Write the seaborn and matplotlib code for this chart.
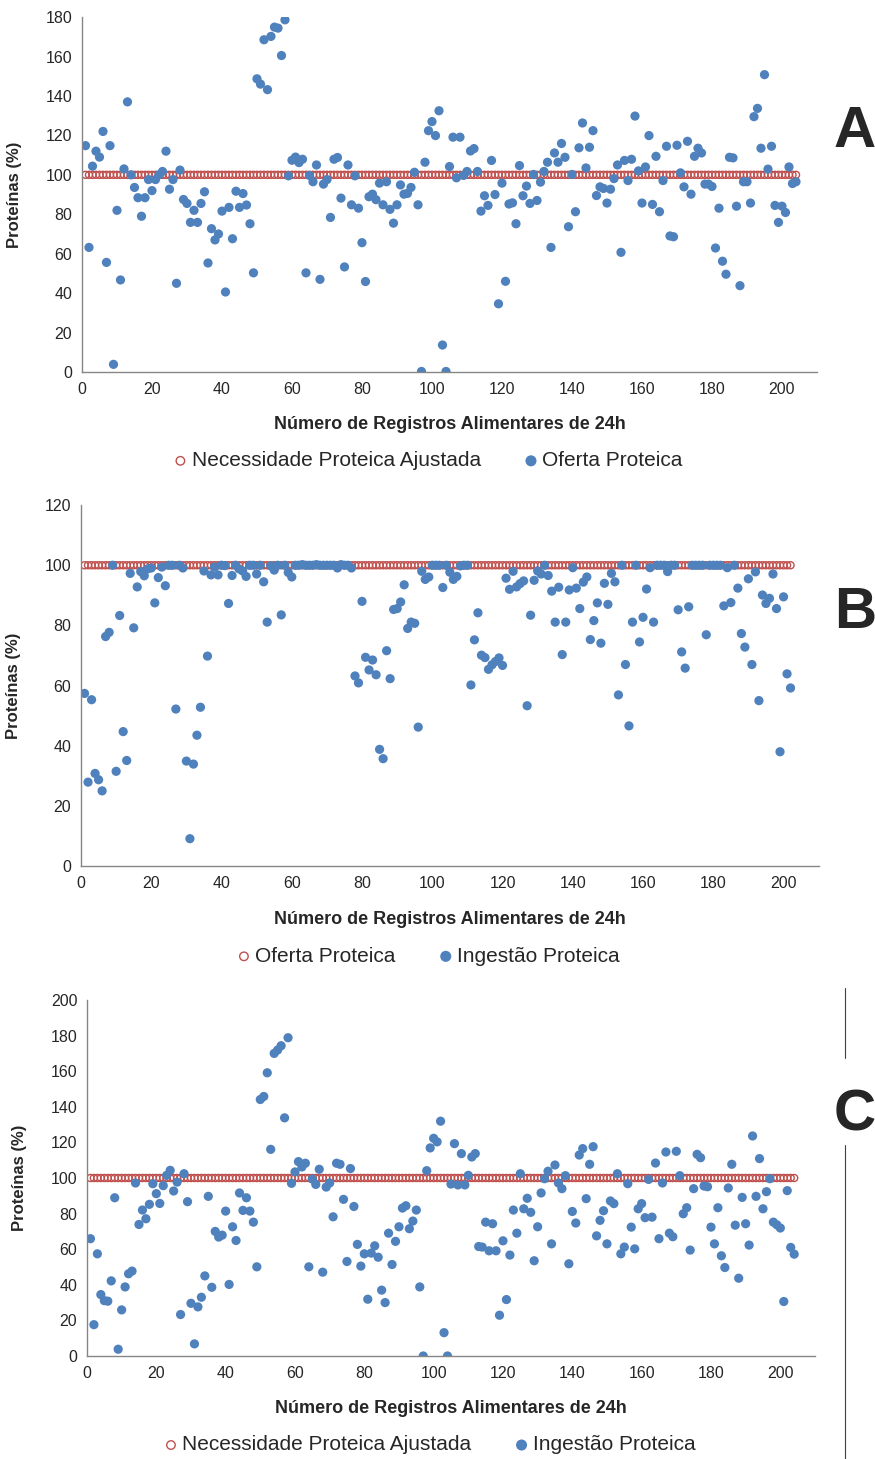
import numpy as np
import pandas as pd
import matplotlib
matplotlib.use('Agg')
import matplotlib.pyplot as plt
import seaborn as sns
from matplotlib.lines import Line2D

# Panel A: adjusted need (100%) vs protein offer
oferta_a = [114.8, 63.2, 104.4, 112, 109, 122, 55.6, 114.8, 3.9, 82,
            46.7, 103, 137, 100, 93.6, 88.4, 79, 88.4, 97.6, 92,
            97.6, 100, 101.7, 112, 92.7, 97.6, 45, 102.4, 87.5, 85.5,
            75.9, 82, 75.9, 85.5, 91.4, 55.3, 72.7, 67, 70, 81.6,
            40.6, 83.5, 67.6, 91.7, 83.5, 90.5, 84.7, 75.2, 50.3, 148.7,
            146, 168.5, 143.2, 170.2, 174.9, 174.4, 160.5, 178.6, 99.5, 107.4,
            109, 106.2, 107.9, 50.3, 99.7, 96.5, 105, 47, 95.3, 97.6,
            78.4, 107.9, 108.8, 88.2, 53.3, 105, 84.8, 99.5, 83.1, 65.6,
            45.9, 88.9, 90.2, 87.4, 95.8, 84.8, 96.5, 82.5, 75.5, 84.8,
            94.9, 90.2, 90.6, 93.6, 101.3, 84.8, 0.3, 106.4, 122.4, 127,
            119.9, 132.5, 13.7, 0.3, 104.2, 119.1, 98.5, 119.1, 99.7, 101.7,
            112.1, 113.3, 101.7, 81.6, 89.4, 84.5, 107.3, 90, 34.6, 95.8,
            46, 85.2, 85.8, 75.2, 104.7, 89.4, 94.3, 85.5, 100.2, 87,
            96.3, 101.7, 106.4, 63.2, 111.1, 106.4, 115.9, 108.9, 73.7, 100.2,
            81.3, 113.7, 126.3, 103.5, 114, 122.4, 89.5, 93.9, 93.1, 85.7,
            92.7, 98.1, 105, 60.7, 107.3, 97.1, 107.9, 129.8, 102, 85.7,
            104, 119.9, 85, 109.4, 81.3, 97.1, 114.5, 69, 68.6, 115,
            101, 93.9, 117, 90.2, 109.4, 113.5, 111.1, 95.3, 95.3, 94.1,
            62.9, 83.1, 56.2, 49.6, 108.9, 108.6, 84.1, 43.8, 96.5, 96.5,
            85.7, 129.5, 133.7, 113.5, 150.8, 102.9, 114.5, 84.5, 75.9, 84.1,
            80.9, 104, 95.6, 96.5]

# Panel B: protein offer (100%) vs protein intake
ingestao_b = [57.4, 27.9, 55.3, 30.8, 28.7, 25, 76.3, 77.7, 100, 31.5,
              83.3, 44.7, 35.1, 97.3, 79.2, 92.8, 97.9, 96.5, 98.8, 99.1,
              87.5, 95.9, 99.4, 93.2, 100, 100, 52.2, 100, 99.1, 34.9,
              9.1, 33.9, 43.5, 52.8, 98.1, 69.8, 96.8, 99.4, 96.8, 100,
              99.9, 87.3, 96.6, 100, 98.8, 98.1, 96.3, 100, 100, 97.1,
              100, 94.5, 81.1, 99.8, 98.4, 100, 83.5, 100, 97.6, 96.1,
              100, 100, 100.2, 100, 100, 100, 100.2, 100, 100, 100,
              100, 100, 99.1, 100.2, 100, 100, 99.1, 63.2, 60.9, 88,
              69.4, 65.2, 68.5, 63.6, 38.8, 35.7, 71.6, 62.3, 85.3, 85.6,
              87.8, 93.5, 79, 81.1, 80.7, 46.2, 98, 95.3, 96.1, 100,
              100, 100, 92.6, 100, 97.7, 95.3, 96.3, 99.8, 100, 100,
              60.2, 75.2, 84.2, 70.1, 69.3, 65.4, 66.9, 68, 69.2, 66.7,
              95.7, 92, 98, 92.8, 93.9, 94.8, 53.3, 83.4, 95, 98.1,
              97.1, 100, 96.6, 91.4, 81.1, 92.7, 70.3, 81.1, 91.8, 99.2,
              92.4, 85.6, 94.4, 96.1, 75.3, 81.6, 87.5, 74.1, 94, 87,
              97.3, 94.5, 56.9, 100, 67, 46.6, 81.1, 100, 74.5, 82.7,
              92.1, 99.2, 81.1, 100, 100, 100, 97.9, 100, 100, 85.2,
              71.2, 65.8, 86.2, 100, 100, 100, 100, 76.9, 100, 100,
              100, 100, 86.5, 99.2, 87.6, 100, 92.4, 77.3, 72.8, 95.5,
              67, 97.8, 55, 90.1, 87.3, 89, 97.1, 85.6, 38, 89.5,
              63.9, 59.2]

# Panel C: adjusted need (100%) vs protein intake
ingestao_c = [65.9, 17.6, 57.4, 34.5, 31.1, 30.8, 42.2, 88.9, 3.8, 25.9,
              38.8, 46.2, 47.7, 97.2, 73.9, 82, 77.1, 85.2, 96.8, 91.2,
              85.7, 95.7, 101.5, 104.3, 92.7, 97.7, 23.3, 102.4, 86.7, 29.6,
              6.8, 27.6, 33, 45, 89.7, 38.6, 70, 66.8, 67.9, 81.4,
              40.2, 72.6, 64.9, 91.6, 81.8, 88.9, 81.4, 75.2, 50.1, 144.1,
              145.8, 159.1, 116.1, 170, 171.9, 174.3, 133.8, 178.8, 97, 103.4,
              109.2, 106.2, 108.3, 50.1, 99.4, 96.4, 104.9, 47.1, 94.9, 97.2,
              78.2, 108.3, 107.7, 88, 53.1, 105.3, 84, 62.7, 50.5, 57.4,
              31.9, 57.8, 61.9, 55.5, 37, 30, 69, 51.4, 64.4, 72.6,
              83.1, 84.4, 71.5, 75.8, 82, 38.8, 0, 104.1, 116.9, 122.3,
              120.3, 131.9, 13.1, 0, 96.6, 119.3, 96.1, 113.7, 96.1, 101.5,
              111.8, 113.7, 61.5, 61.2, 75.2, 59.1, 74.3, 59.1, 22.9, 64.7,
              31.7, 56.7, 82, 69, 102.4, 82.7, 88.6, 80.7, 53.5, 72.6,
              91.6, 99.6, 103.8, 63, 107.3, 97.2, 94, 101.3, 51.8, 81.2,
              74.7, 112.9, 116.5, 88.4, 107.7, 117.6, 67.5, 76.2, 81.6, 63,
              87.1, 85.6, 102.4, 57.4, 61.2, 96.8, 72.4, 60.2, 82.7, 85.6,
              77.7, 99.2, 78, 108.4, 65.9, 97.2, 114.6, 69, 67, 115,
              101.3, 79.9, 83.3, 59.5, 94, 113.3, 111.4, 95.5, 95.1, 72.4,
              63, 83.3, 56.3, 49.7, 94.4, 107.7, 73.5, 43.7, 89.1, 74.3,
              62.3, 123.6, 89.7, 110.9, 82.7, 92.3, 99.6, 75.2, 73.7, 71.9,
              30.6, 92.9, 61, 57.2]

referencia = 100  # reference level (100%) drawn as red open circles

paineis = [
    # letter, blue series, red label, blue label, ymax, axes rect, letter height
    ('A', oferta_a, 'Necessidade Proteica Ajustada', 'Oferta Proteica', 180,
     [0.0937, 0.745, 0.840, 0.2433], 0.675),
    ('B', ingestao_b, 'Oferta Proteica', 'Ingestão Proteica', 120,
     [0.0926, 0.4064, 0.843, 0.2474], 0.70),
    ('C', ingestao_c, 'Necessidade Proteica Ajustada', 'Ingestão Proteica', 200,
     [0.0994, 0.0706, 0.832, 0.2440], 0.675),
]

sns.set_style('white')
plt.rcParams['font.family'] = ['Liberation Sans', 'DejaVu Sans']

azul = '#4F81BD'
vermelho = '#C0504D'
cinza = '#868686'

fig = plt.figure(figsize=(8.75, 14.59), dpi=100)

for letra, serie, lab_red, lab_blue, ymax, rect, letra_y in paineis:
    ax = fig.add_axes(rect)
    df = pd.DataFrame({'registro': np.arange(1, len(serie) + 1), 'valor': serie})
    df['ref'] = referencia

    sns.scatterplot(data=df, x='registro', y='ref', ax=ax, marker='o',
                    facecolors='none', edgecolor=vermelho, linewidth=1.0,
                    s=26, label=lab_red)
    sns.scatterplot(data=df, x='registro', y='valor', ax=ax, color=azul,
                    edgecolor='none', s=44, label=lab_blue)

    ax.set_xlim(0, 210)
    ax.set_ylim(0, ymax)
    ax.set_xticks(range(0, 201, 20))
    ax.set_yticks(range(0, ymax + 1, 20))
    ax.tick_params(direction='out', length=4, width=0.8, color=cinza,
                   labelsize=11.5, pad=3)
    for side in ['top', 'right']:
        ax.spines[side].set_visible(False)
    for side in ['left', 'bottom']:
        ax.spines[side].set_color(cinza)
        ax.spines[side].set_linewidth(1)

    ax.set_xlabel('Número de Registros Alimentares de 24h', fontsize=13,
                  fontweight='bold')
    ax.set_ylabel('Proteínas (%)', fontsize=12, fontweight='bold')
    ax.xaxis.set_label_coords(0.5, -0.125)
    ax.yaxis.set_label_coords(-0.082, 0.5)

    ax.legend(loc='center', bbox_to_anchor=(0.47, -0.25), ncol=2,
              frameon=False, fontsize=15, handlelength=0.8,
              handletextpad=0.15, columnspacing=2.0, markerscale=1.2)

    # big panel letter at the right
    fig.text(0.977, rect[1] + rect[3] * letra_y, letra, fontsize=42,
             fontweight='bold', ha='center', va='center')

# thin vertical line at the right of panel C
fig.add_artist(Line2D([845 / 875, 845 / 875], [1 - 988 / 1459, 1 - 1058 / 1459],
                      color='#404040', linewidth=0.8))
fig.add_artist(Line2D([845 / 875, 845 / 875], [1 - 1145 / 1459, 0.0],
                      color='#404040', linewidth=0.8))

fig.savefig('out.png', dpi=100)
